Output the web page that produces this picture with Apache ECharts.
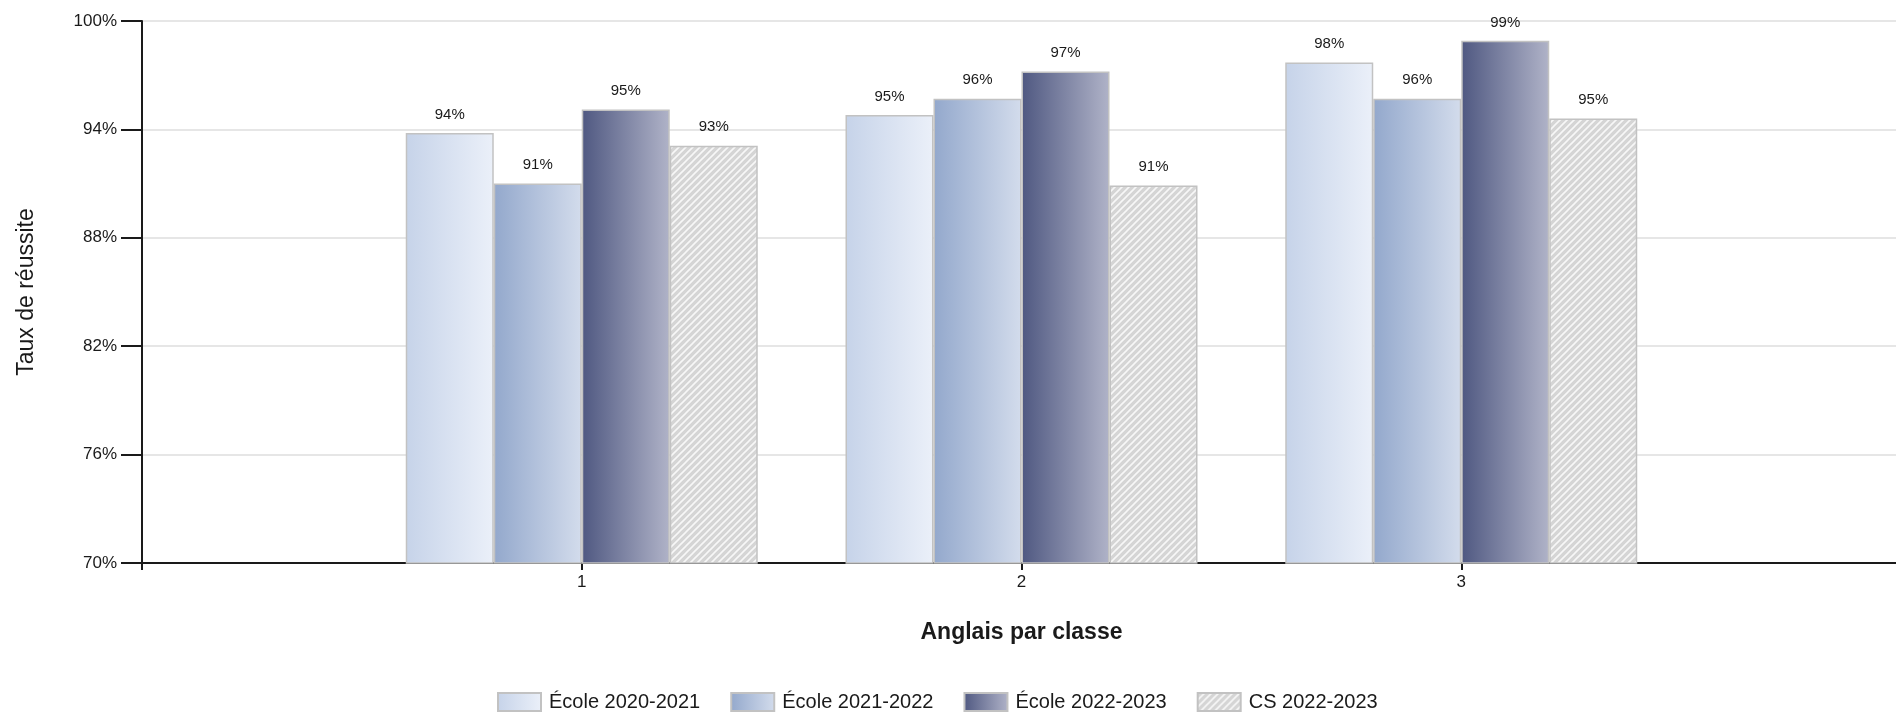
<!DOCTYPE html>
<html>
<head>
<meta charset="utf-8">
<script src="https://cdn.jsdelivr.net/npm/echarts@6/dist/echarts.min.js"></script>
<style>
html,body{margin:0;padding:0;background:#fff;}
#chart{width:1896px;height:713px;}
</style>
</head>
<body>
<div id="chart"></div>
<script>
// ---- data ----
const categories = ['1', '2', '3'];
const seriesNames = ['École 2020-2021', 'École 2021-2022', 'École 2022-2023', 'CS 2022-2023'];
const ecole2020_2021 = [93.8, 94.8, 97.7];
const ecole2021_2022 = [91.0, 95.7, 95.7];
const ecole2022_2023 = [95.1, 97.2, 98.9];
const cs2022_2023 = [93.1, 90.9, 94.6];
const yTicks = [70, 76, 82, 88, 94, 100];
const xTitle = 'Anglais par classe';
const yTitle = 'Taux de réussite';

// ---- styling ----
const FONT = "'Liberation Sans', Arial, sans-serif";
function hatch() {
  const s = 7;
  const c = document.createElement('canvas');
  c.width = s; c.height = s;
  const g = c.getContext('2d');
  g.fillStyle = '#d5d5d5';
  g.fillRect(0, 0, s, s);
  g.strokeStyle = '#f7f7f7';
  g.lineWidth = 1.6;
  g.beginPath();
  g.moveTo(0, s); g.lineTo(s, 0);
  g.moveTo(-1, 1); g.lineTo(1, -1);
  g.moveTo(s - 1, s + 1); g.lineTo(s + 1, s - 1);
  g.stroke();
  return c;
}
function grad(a, b) {
  return new echarts.graphic.LinearGradient(0, 0, 1, 0, [
    { offset: 0, color: a }, { offset: 1, color: b }
  ]);
}
const fills = [
  grad('#c6d3e9', '#ebf0f9'),
  grad('#93a8cc', '#d3dcec'),
  grad('#4f5881', '#b0b3c8'),
  { image: hatch(), repeat: 'repeat' }
];
const values = [ecole2020_2021, ecole2021_2022, ecole2022_2023, cs2022_2023];

// padded category axis: empty slots at both ends
const axisCats = [''].concat(categories, ['']);

const series = seriesNames.map((name, i) => ({
  name: name,
  type: 'bar',
  barWidth: 88,
  barGap: '0%',
  data: [null].concat(values[i], [null]),
  itemStyle: { color: fills[i], borderColor: '#c2c2c2', borderWidth: 1.5 },
  label: {
    show: true, position: 'top', distance: 11,
    color: '#1a1a1a', fontSize: 15, fontFamily: FONT,
    formatter: p => Math.round(p.value) + '%'
  }
}));

const chart = echarts.init(document.getElementById('chart'), null, { renderer: 'canvas' });
chart.setOption({
  animation: false,
  backgroundColor: '#ffffff',
  grid: { left: 142, top: 21, right: -5, bottom: 150, outerBoundsMode: 'none', containLabel: false },
  legend: {
    data: seriesNames,
    left: 497, top: 692, padding: 0,
    itemWidth: 43, itemHeight: 18, itemGap: 30,
    icon: 'rect',
    textStyle: { fontSize: 20, color: '#1a1a1a', fontFamily: FONT, padding: [0, 0, 0, 3] }
  },
  xAxis: {
    type: 'category',
    data: axisCats,
    boundaryGap: false,
    name: xTitle,
    nameLocation: 'middle',
    nameGap: 58,
    nameTextStyle: { fontSize: 23, fontWeight: 'bold', color: '#1a1a1a', fontFamily: FONT },
    axisLine: { lineStyle: { color: '#1a1a1a', width: 2 } },
    axisTick: { show: true, length: 7, lineStyle: { color: '#1a1a1a', width: 2 } },
    axisLabel: { fontSize: 17, color: '#1a1a1a', fontFamily: FONT, margin: 11, interval: 0 },
    splitLine: { show: false }
  },
  yAxis: {
    type: 'value',
    min: yTicks[0], max: yTicks[yTicks.length - 1], interval: yTicks[1] - yTicks[0],
    name: yTitle,
    nameLocation: 'middle',
    nameGap: 104,
    nameTextStyle: { fontSize: 23, color: '#1a1a1a', fontFamily: FONT },
    axisLine: { show: true, lineStyle: { color: '#1a1a1a', width: 2 } },
    axisTick: { show: true, length: 21, lineStyle: { color: '#1a1a1a', width: 2 } },
    axisLabel: { fontSize: 17, color: '#1a1a1a', fontFamily: FONT, margin: 25, formatter: v => v + '%' },
    splitLine: { show: true, lineStyle: { color: '#dedede', width: 1.5 } }
  },
  series: series
});
</script>
</body>
</html>
